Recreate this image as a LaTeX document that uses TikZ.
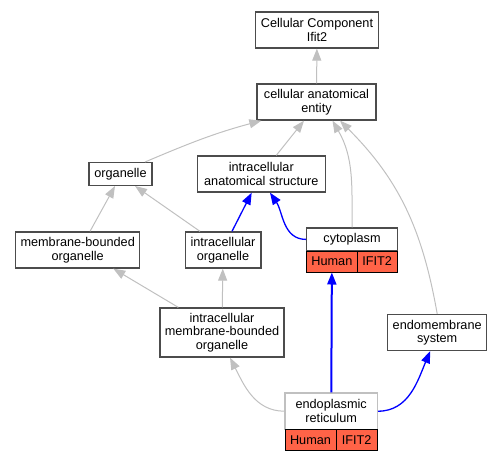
\documentclass[tikz,border=0pt]{standalone}
\usepackage{fontspec}
\setmainfont{Liberation Sans}
\usetikzlibrary{arrows.meta}
\definecolor{tomato}{RGB}{255,99,71}
\definecolor{silver}{RGB}{192,192,192}
\begin{document}
\begin{tikzpicture}[x=1pt,y=1pt,font=\fontsize{12.7}{13.5}\selectfont]
  \tikzstyle{term}=[draw=black!70,line width=1.3pt,fill=white,align=center,inner sep=0pt,minimum height=36pt]
  \tikzstyle{cell}=[draw=black,line width=1pt,fill=tomato,inner sep=0pt,minimum height=21pt]
  \tikzstyle{isa}=[draw=silver,line width=1pt,-{Triangle[length=12pt,width=9pt]}]
  \tikzstyle{part}=[draw=blue,line width=1.3pt,-{Triangle[length=12pt,width=9pt]}]
  \useasboundingbox (0,0) rectangle (503,-461);
  \node[term,minimum width=123pt] (CC)   at (317,-30)    {Cellular Component\\Ifit2};
  \node[term,minimum width=119pt] (CAE)  at (316.5,-102) {cellular anatomical\\entity};
  \node[term,minimum width=63pt,minimum height=22.7pt] (ORG) at (120.5,-174) {organelle};
  \node[term,minimum width=128pt] (IAS)  at (261.3,-174) {intracellular\\anatomical structure};
  \node[term,minimum width=124pt] (MBO)  at (77.7,-250)  {membrane-bounded\\organelle};
  \node[term,minimum width=75.7pt] (IO)  at (223,-250)   {intracellular\\organelle};
  \node[term,minimum width=124pt,minimum height=49pt] (IMBO) at (222,-332.5) {intracellular\\membrane-bounded\\organelle};
  \node[term,minimum width=99pt]  (EMS)  at (437.2,-332.5) {endomembrane\\system};
  % annotated terms
  \node[term,minimum width=90.7pt,minimum height=22.7pt] (CYT) at (352,-239.4) {cytoplasm};
  \node[cell,minimum width=50.3pt] (CYTH) at (331.9,-261.5) {Human};
  \node[cell,minimum width=40.3pt] (CYTI) at (377.2,-261.5) {IFIT2};
  \node[term,draw=silver,minimum width=92.3pt,minimum height=36.3pt] (ER) at (331.2,-411.2) {endoplasmic\\reticulum};
  \node[cell,minimum width=51pt] (ERH) at (310.5,-439.8) {Human};
  \node[cell,minimum width=41.3pt] (ERI) at (356.7,-439.8) {IFIT2};
  % is_a
  \draw[isa] (CAE) -- (CC);
  \draw[isa] ([xshift=24.5pt]ORG.north) to[out=23,in=195] ([xshift=5pt]CAE.south west);
  \draw[isa] ([xshift=15pt]IAS.north) -- ([xshift=-12.5pt]CAE.south);
  \draw[isa] (CYT.north) to[out=90,in=-60] ([xshift=16pt]CAE.south);
  \draw[isa] (EMS.north) to[out=100,in=-45] ([xshift=23.5pt]CAE.south);
  \draw[isa] ([xshift=12.3pt]MBO.north) -- ([xshift=-5.5pt]ORG.south);
  \draw[isa] ([xshift=-23pt]IO.north) -- ([xshift=14.5pt]ORG.south);
  \draw[isa] ([xshift=-43.7pt]IMBO.north) -- ([xshift=35.6pt]MBO.south);
  \draw[isa] (IMBO) -- (IO);
  \draw[isa] (ER.west) to[out=180,in=-63] ([xshift=8pt]IMBO.south);
  % part_of
  \draw[part] ([xshift=9pt]IO.north) -- ([xshift=-9.6pt]IAS.south);
  \draw[part] (CYT.west) to[out=180,in=-56] ([xshift=8.7pt]IAS.south);
  \draw[part,line width=2pt] (ER) -- (CYTH);
  \draw[part] (ER.east) to[out=0,in=-113] ([xshift=-7pt]EMS.south);
\end{tikzpicture}
\end{document}
